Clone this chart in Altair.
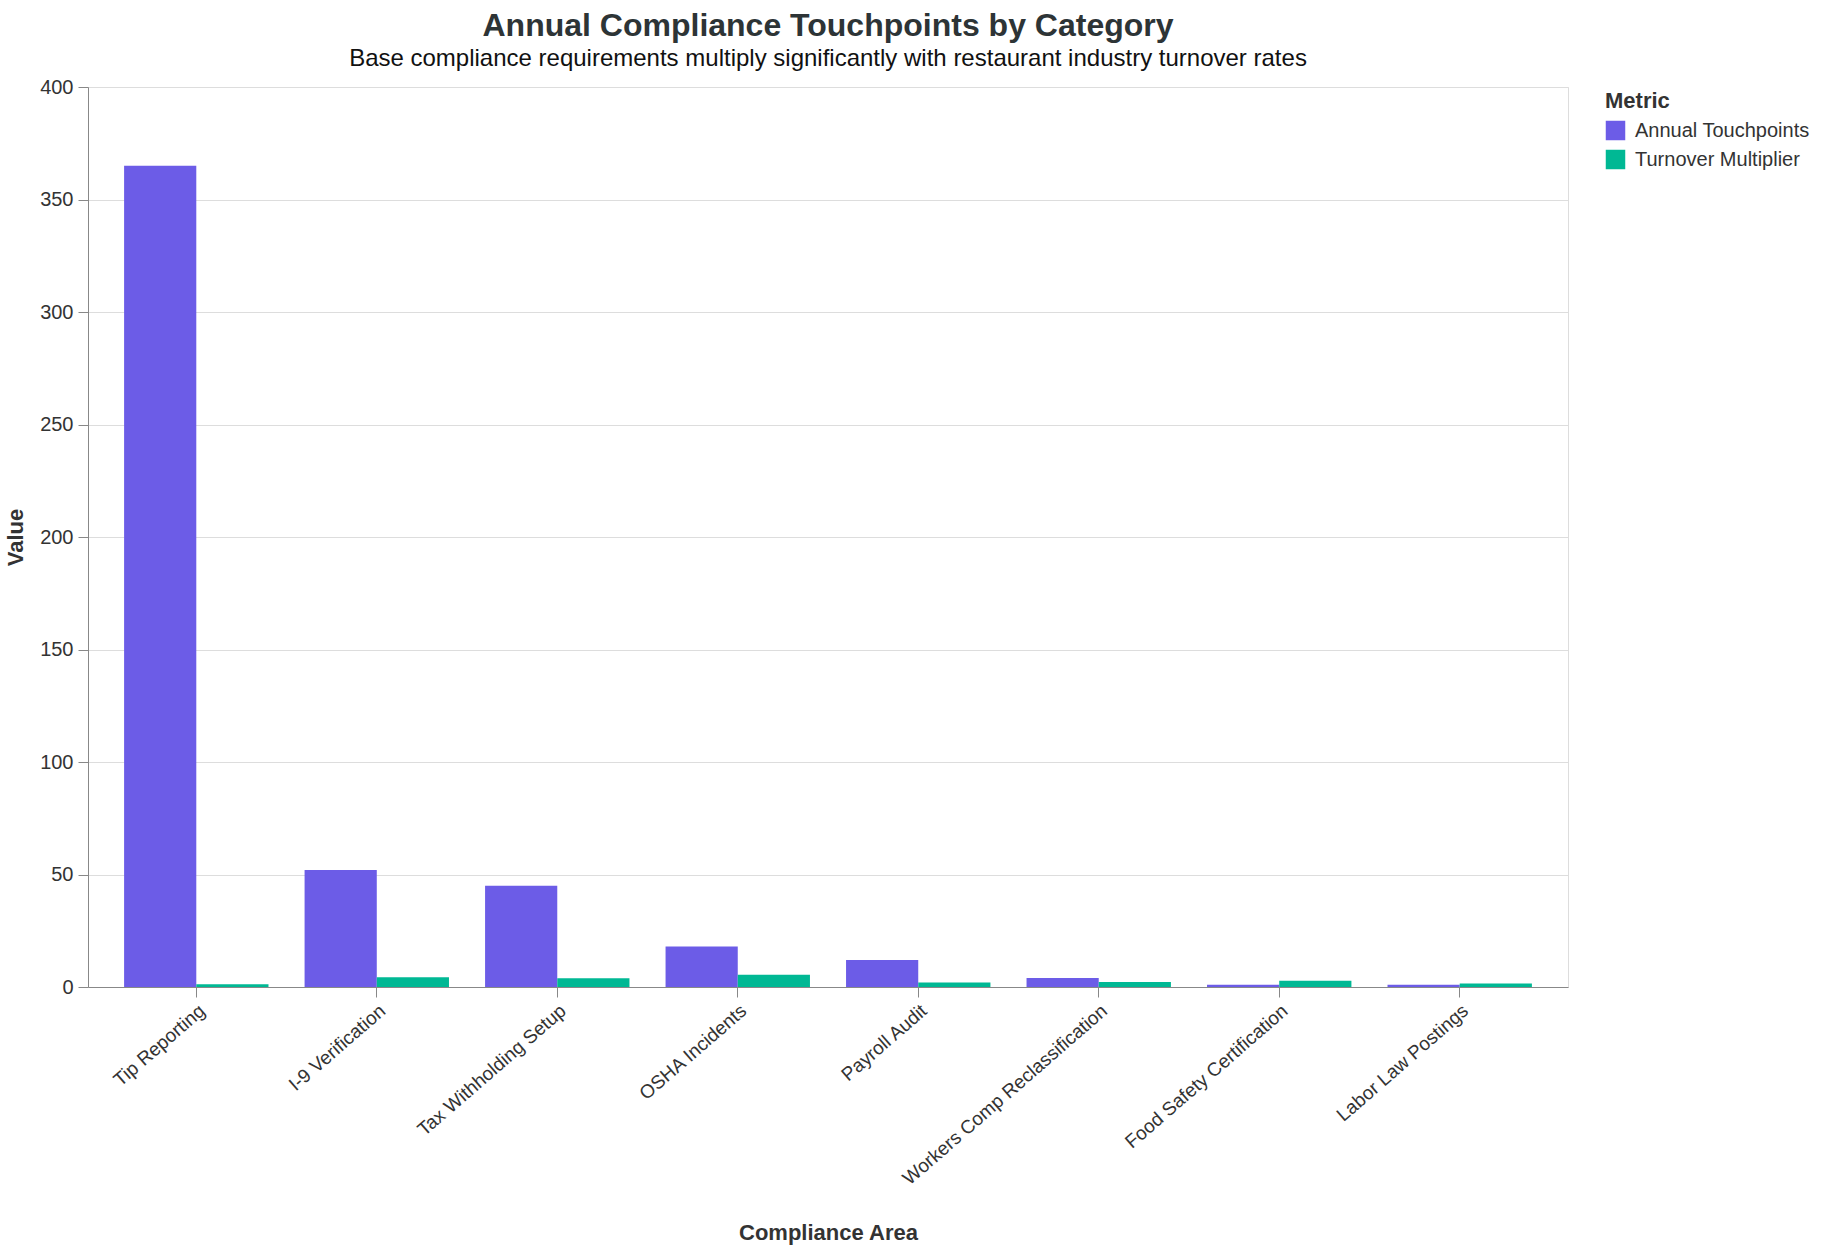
import altair as alt
import pandas as pd

# Compliance areas in display order
categories = [
    "Tip Reporting",
    "I-9 Verification",
    "Tax Withholding Setup",
    "OSHA Incidents",
    "Payroll Audit",
    "Workers Comp Reclassification",
    "Food Safety Certification",
    "Labor Law Postings",
]

# Series values per compliance area
annual_touchpoints = [365, 52, 45, 18, 12, 4, 1, 1]
turnover_multiplier = [1.2, 4.3, 3.9, 5.5, 2.0, 2.2, 2.8, 1.6]

metrics = ["Annual Touchpoints", "Turnover Multiplier"]
colors = ["#6C5CE7", "#00B894"]

rows = []
for cat, a, t in zip(categories, annual_touchpoints, turnover_multiplier):
    rows.append({"Compliance Area": cat, "Metric": metrics[0], "Value": a})
    rows.append({"Compliance Area": cat, "Metric": metrics[1], "Value": t})
df = pd.DataFrame(rows)

chart = (
    alt.Chart(df)
    .mark_bar()
    .encode(
        x=alt.X(
            "Compliance Area:N",
            sort=categories,
            scale=alt.Scale(paddingInner=0.2, paddingOuter=0.2),
            axis=alt.Axis(
                labelAngle=-41,
                labelFontSize=19,
                labelLimit=0,
                labelPadding=4,
                titleFontSize=22,
                titlePadding=35,
                tickSize=10,
            ),
        ),
        xOffset=alt.XOffset("Metric:N", sort=metrics),
        y=alt.Y(
            "Value:Q",
            scale=alt.Scale(domain=[0, 400]),
            axis=alt.Axis(
                values=list(range(0, 401, 50)),
                labelFontSize=20,
                labelPadding=5,
                titleFontSize=22,
                titlePadding=12,
                tickSize=10,
            ),
        ),
        color=alt.Color(
            "Metric:N",
            sort=metrics,
            scale=alt.Scale(domain=metrics, range=colors),
            legend=alt.Legend(
                title="Metric",
                titleFontSize=22,
                titlePadding=7,
                labelFontSize=20,
                labelLimit=0,
                labelOffset=9,
                rowPadding=8,
                symbolType="square",
                symbolSize=380,
                padding=4,
                offset=33,
                orient="right",
            ),
        ),
        tooltip=["Compliance Area:N", "Metric:N", "Value:Q"],
    )
    .properties(
        width=1480,
        height=900,
        title=alt.TitleParams(
            text="Annual Compliance Touchpoints by Category",
            subtitle="Base compliance requirements multiply significantly with restaurant industry turnover rates",
            fontSize=32,
            subtitleFontSize=24,
            subtitlePadding=4,
            color="#2D3436",
            subtitleColor="#111111",
            anchor="middle",
            frame="group",
            offset=5,
        ),
        padding={"left": 4, "top": 10, "right": 5, "bottom": 5},
    )
    .configure(font="Liberation Sans")
    .configure_view(stroke="#dddddd")
    .configure_axis(
        domainColor="#888888",
        tickColor="#888888",
        gridColor="#dddddd",
        labelColor="#333333",
        titleColor="#333333",
    )
    .configure_legend(titleColor="#333333", labelColor="#333333")
)

chart.save("out.html", embed_options={"renderer": "svg", "actions": False})
